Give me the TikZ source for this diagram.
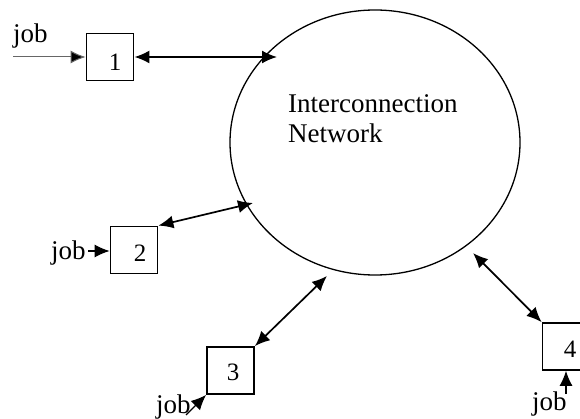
\documentclass[tikz,border=0pt]{standalone}
\usepackage{fontspec}
\setmainfont{Liberation Serif}
\usetikzlibrary{arrows.meta,shapes.geometric}
\begin{document}
\begin{tikzpicture}[x=1pt,y=-1pt,
  procbox/.style={draw, line width=1.8pt, minimum width=47pt, minimum height=47pt, inner sep=0pt},
  numtxt/.style={font=\fontsize{25}{28}\selectfont, inner sep=0pt},
  jobtxt/.style={font=\fontsize{27}{30}\selectfont, inner sep=0pt, anchor=base west},
  link/.style={line width=1.7pt, {Latex[length=15pt,width=13pt]}-{Latex[length=15pt,width=13pt]}},
  feed/.style={line width=1.1pt, -{Latex[length=15pt,width=13pt]}},
  inline/.style={draw=black!60, line width=1pt, -{Latex[length=15pt,width=13pt,fill=black]}}
]
\useasboundingbox[fill=white] (0,0) rectangle (580,419);

% interconnection network
\node[draw, ellipse, line width=1.3pt, minimum width=290pt, minimum height=265pt, inner sep=0pt] (net) at (375,142.5) {};
\node[font=\fontsize{27}{30}\selectfont, align=left, anchor=base west, inner sep=0pt] (nettxt) at (288,143) {Interconnection\\Network};

% attachment points on the network
\coordinate (c1) at (277,57);
\coordinate (c2) at (253,203);
\coordinate (c3) at (327,276);
\coordinate (c4) at (473,253);

% processors
\node[procbox] (b1) at (110,57) {};
\node[numtxt] (n1) at (115,62) {1};
\node[procbox] (b2) at (134,250) {};
\node[numtxt] (n2) at (140,253) {2};
\node[procbox] (b3) at (230.5,370.5) {};
\node[numtxt] (n3) at (233,372) {3};
\node[procbox] (b4) at (566,346.5) {};
\node[numtxt] (n4) at (570,349) {4};

% job labels
\node[jobtxt] (j1) at (13,43) {job};
\node[jobtxt] (j2) at (51,260) {job};
\node[jobtxt] (j3) at (156,413) {job};
\node[jobtxt] (j4) at (532,410) {job};

\coordinate (s1) at (13,57);
\coordinate (s2) at (88,251);
\coordinate (s3) at (186,415);
\coordinate (s4) at (566,394);

% job inputs
\draw[inline] (s1) -- (b1.west);
\draw[feed] (s2) -- (b2.west |- s2);
\draw[feed] (s3) -- (b3.south west);
\draw[feed] (s4) -- (b4.south);

% links to network
\draw[link] (b1.east) -- (c1);
\draw[link] (b2.north east) -- (c2);
\draw[link] (b3.north east) -- (c3);
\draw[link] (b4.north west) -- (c4);
\end{tikzpicture}
\end{document}
